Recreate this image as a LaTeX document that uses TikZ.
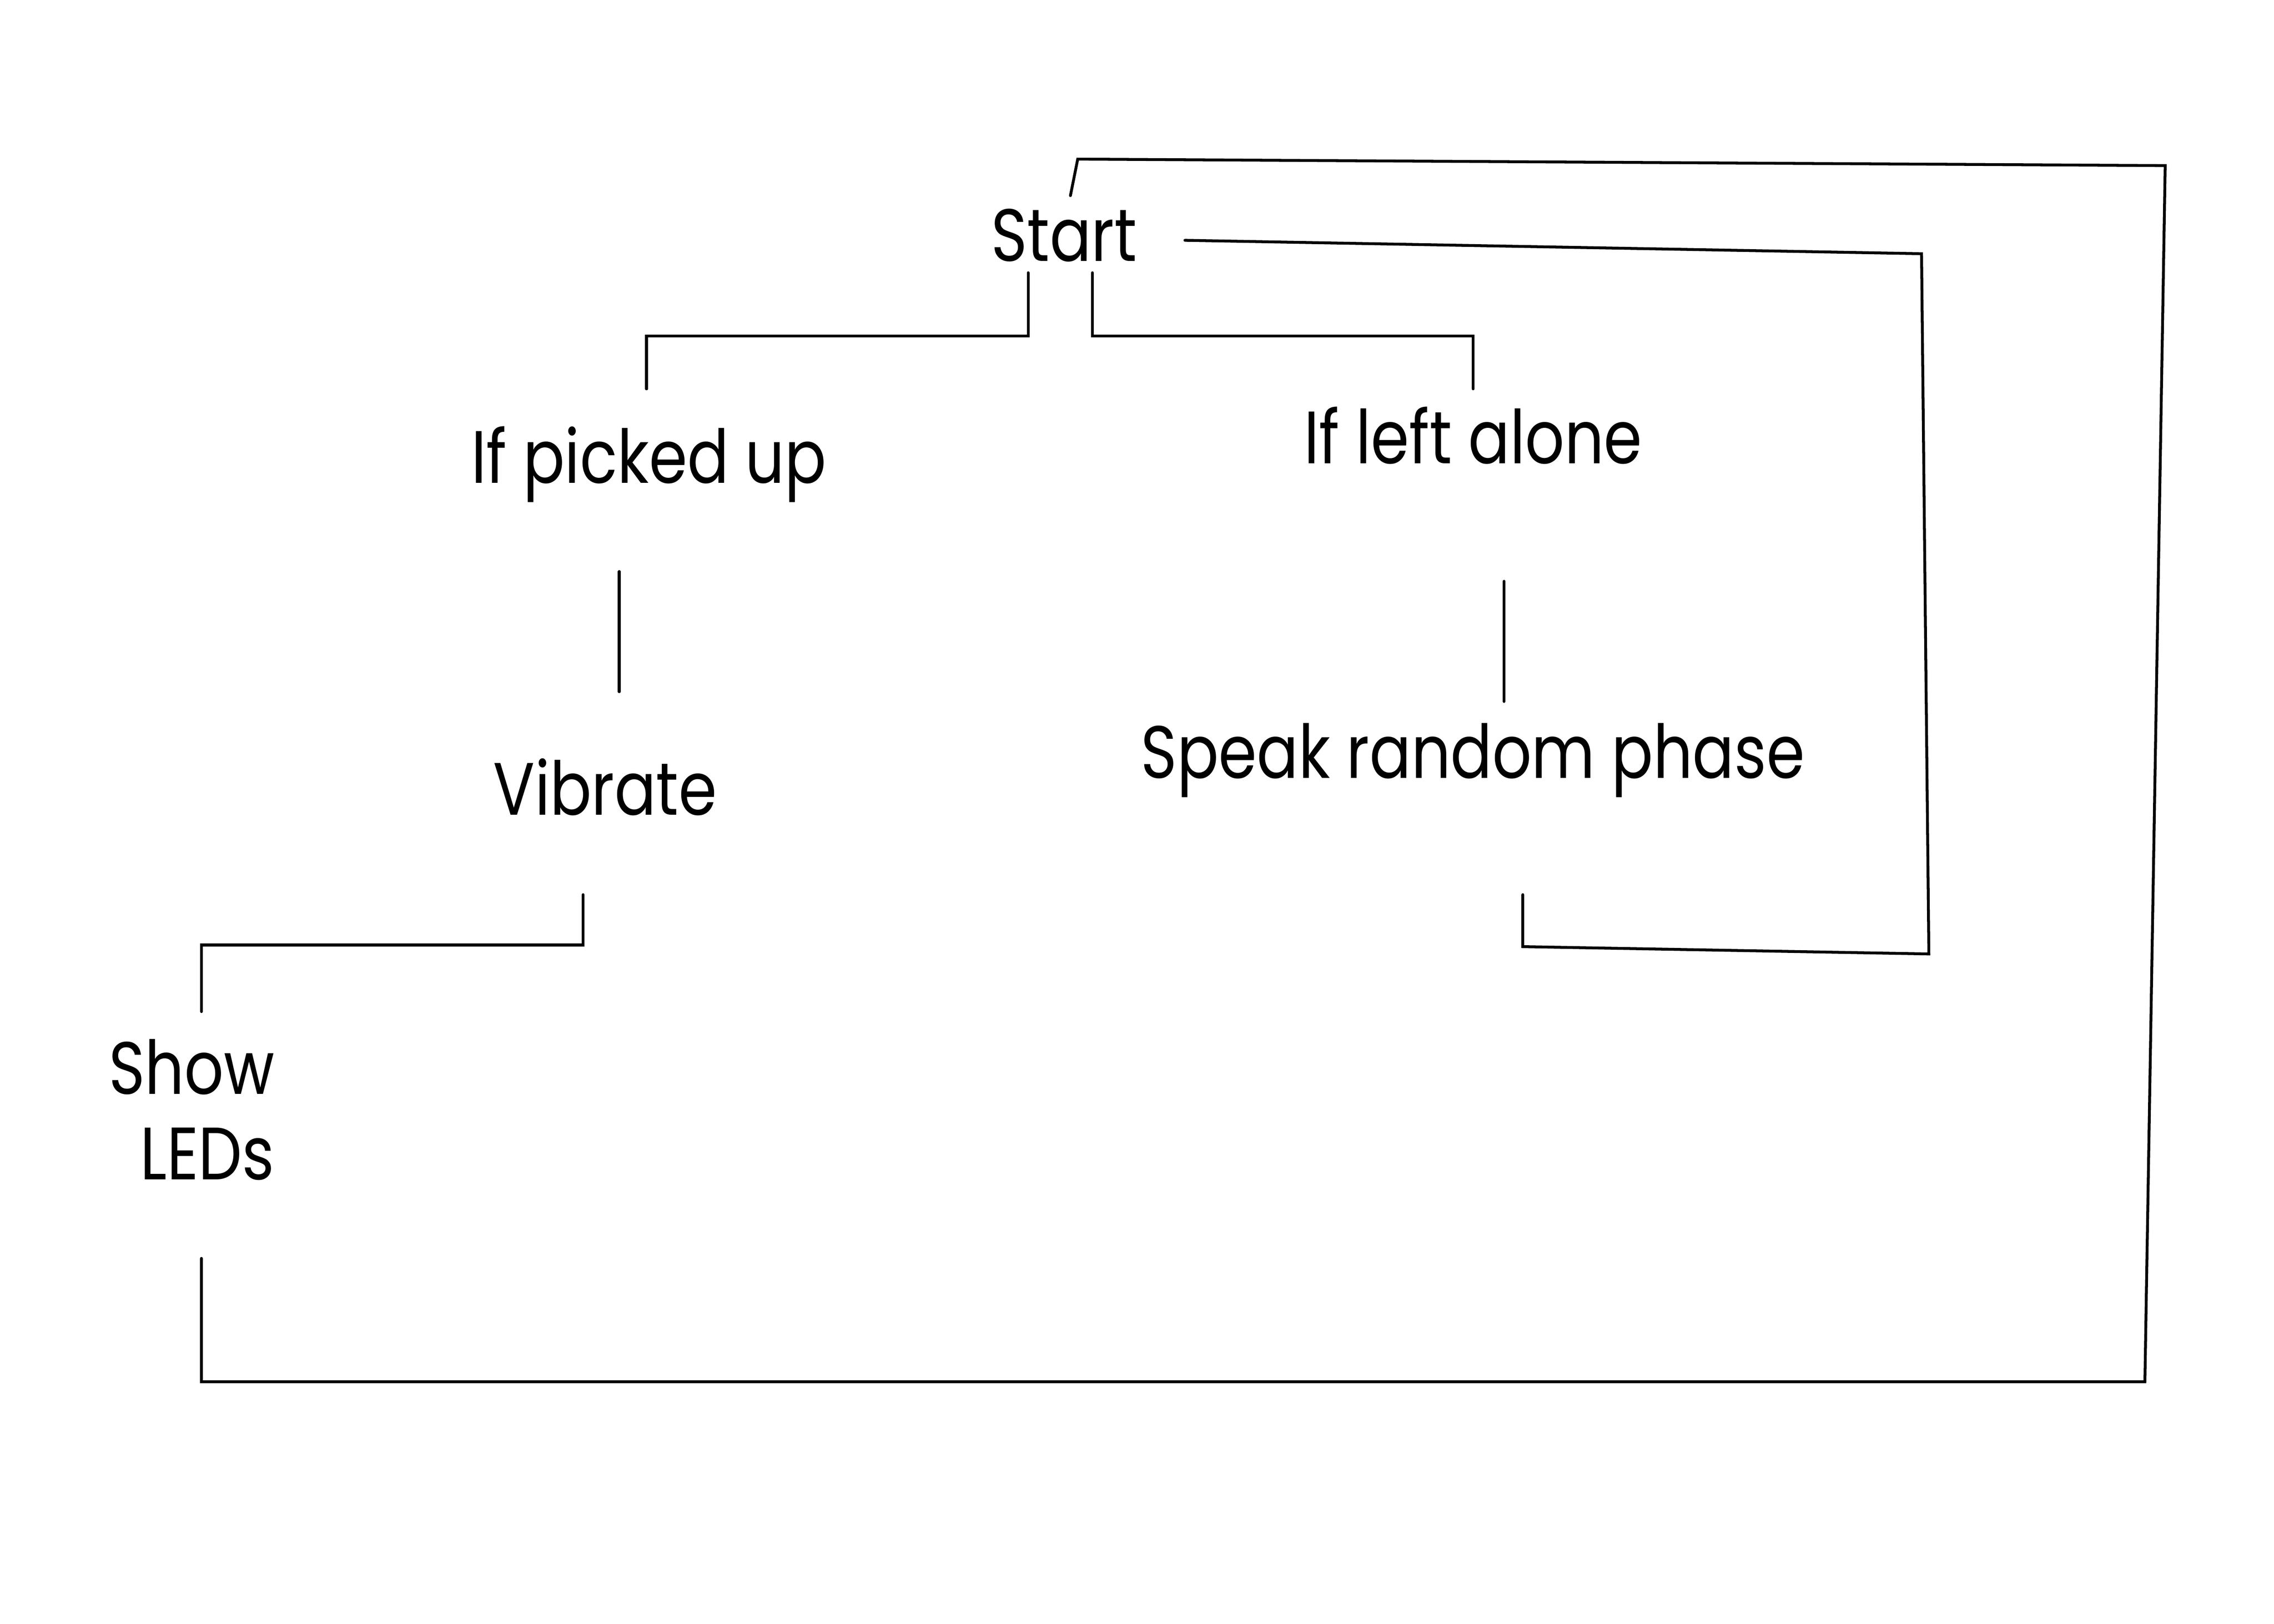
\documentclass[tikz,border=0pt]{standalone}
\usepackage{fontspec}
\setmainfont{Poppins}[FakeStretch=0.83]
\usepackage{tikz}

\tikzset{
	lbl/.style={inner sep=0pt, font=\fontsize{26}{30}\selectfont},
	wire/.style={line width=1pt, line cap=round, line join=miter}
}

\begin{document}
\begin{tikzpicture}
	\useasboundingbox (0,0) rectangle (28,20);

	\node[lbl,anchor=base] (start) at (13.10, 16.785) {Start};
	\node[lbl,anchor=base] (pick)  at (7.99, 14.05)   {If picked up};
	\node[lbl,anchor=base] (alone) at (18.14, 14.29)  {If left alone};
	\node[lbl,anchor=base] (vib)   at (7.45, 9.96)    {Vibrate};
	\node[lbl,anchor=base] (speak) at (18.135, 10.415) {Speak random phase};
	\node[lbl,align=right,anchor=east] (leds) at (3.385, 6.33) {Show\\LEDs};

	% loop back from the LEDs
	\coordinate (a1) at (13.18, 17.59);
	\coordinate (a2) at (13.27, 18.04);
	\coordinate (a3) at (26.66, 17.96);
	\coordinate (a4) at (26.41, 2.98);
	\coordinate (a5) at (2.48, 2.98);
	\coordinate (a6) at (2.48, 4.5);
	% loop back from speaking
	\coordinate (b1) at (14.59, 17.04);
	\coordinate (b2) at (23.66, 16.875);
	\coordinate (b3) at (23.75, 8.25);
	\coordinate (b4) at (18.75, 8.34);
	\coordinate (b5) at (18.75, 8.98);
	% branches
	\coordinate (c1) at (12.66, 16.64);
	\coordinate (c2) at (12.66, 15.86);
	\coordinate (c3) at (7.96, 15.86);
	\coordinate (c4) at (7.96, 15.21);
	\coordinate (d1) at (13.45, 16.64);
	\coordinate (d2) at (13.45, 15.86);
	\coordinate (d3) at (18.14, 15.86);
	\coordinate (d4) at (18.14, 15.21);
	\coordinate (e1) at (7.625, 12.96);
	\coordinate (e2) at (7.625, 11.48);
	\coordinate (f1) at (18.52, 12.84);
	\coordinate (f2) at (18.52, 11.36);
	\coordinate (g1) at (7.18, 8.98);
	\coordinate (g2) at (7.18, 8.36);
	\coordinate (g3) at (2.48, 8.36);
	\coordinate (g4) at (2.48, 7.54);

	\draw[wire] (a6) -- (a5) -- (a4) -- (a3) -- (a2) -- (a1);
	\draw[wire] (b5) -- (b4) -- (b3) -- (b2) -- (b1);
	\draw[wire] (c1) -- (c2) -- (c3) -- (c4);
	\draw[wire] (d1) -- (d2) -- (d3) -- (d4);
	\draw[wire] (e1) -- (e2);
	\draw[wire] (f1) -- (f2);
	\draw[wire] (g1) -- (g2) -- (g3) -- (g4);
\end{tikzpicture}
\end{document}
